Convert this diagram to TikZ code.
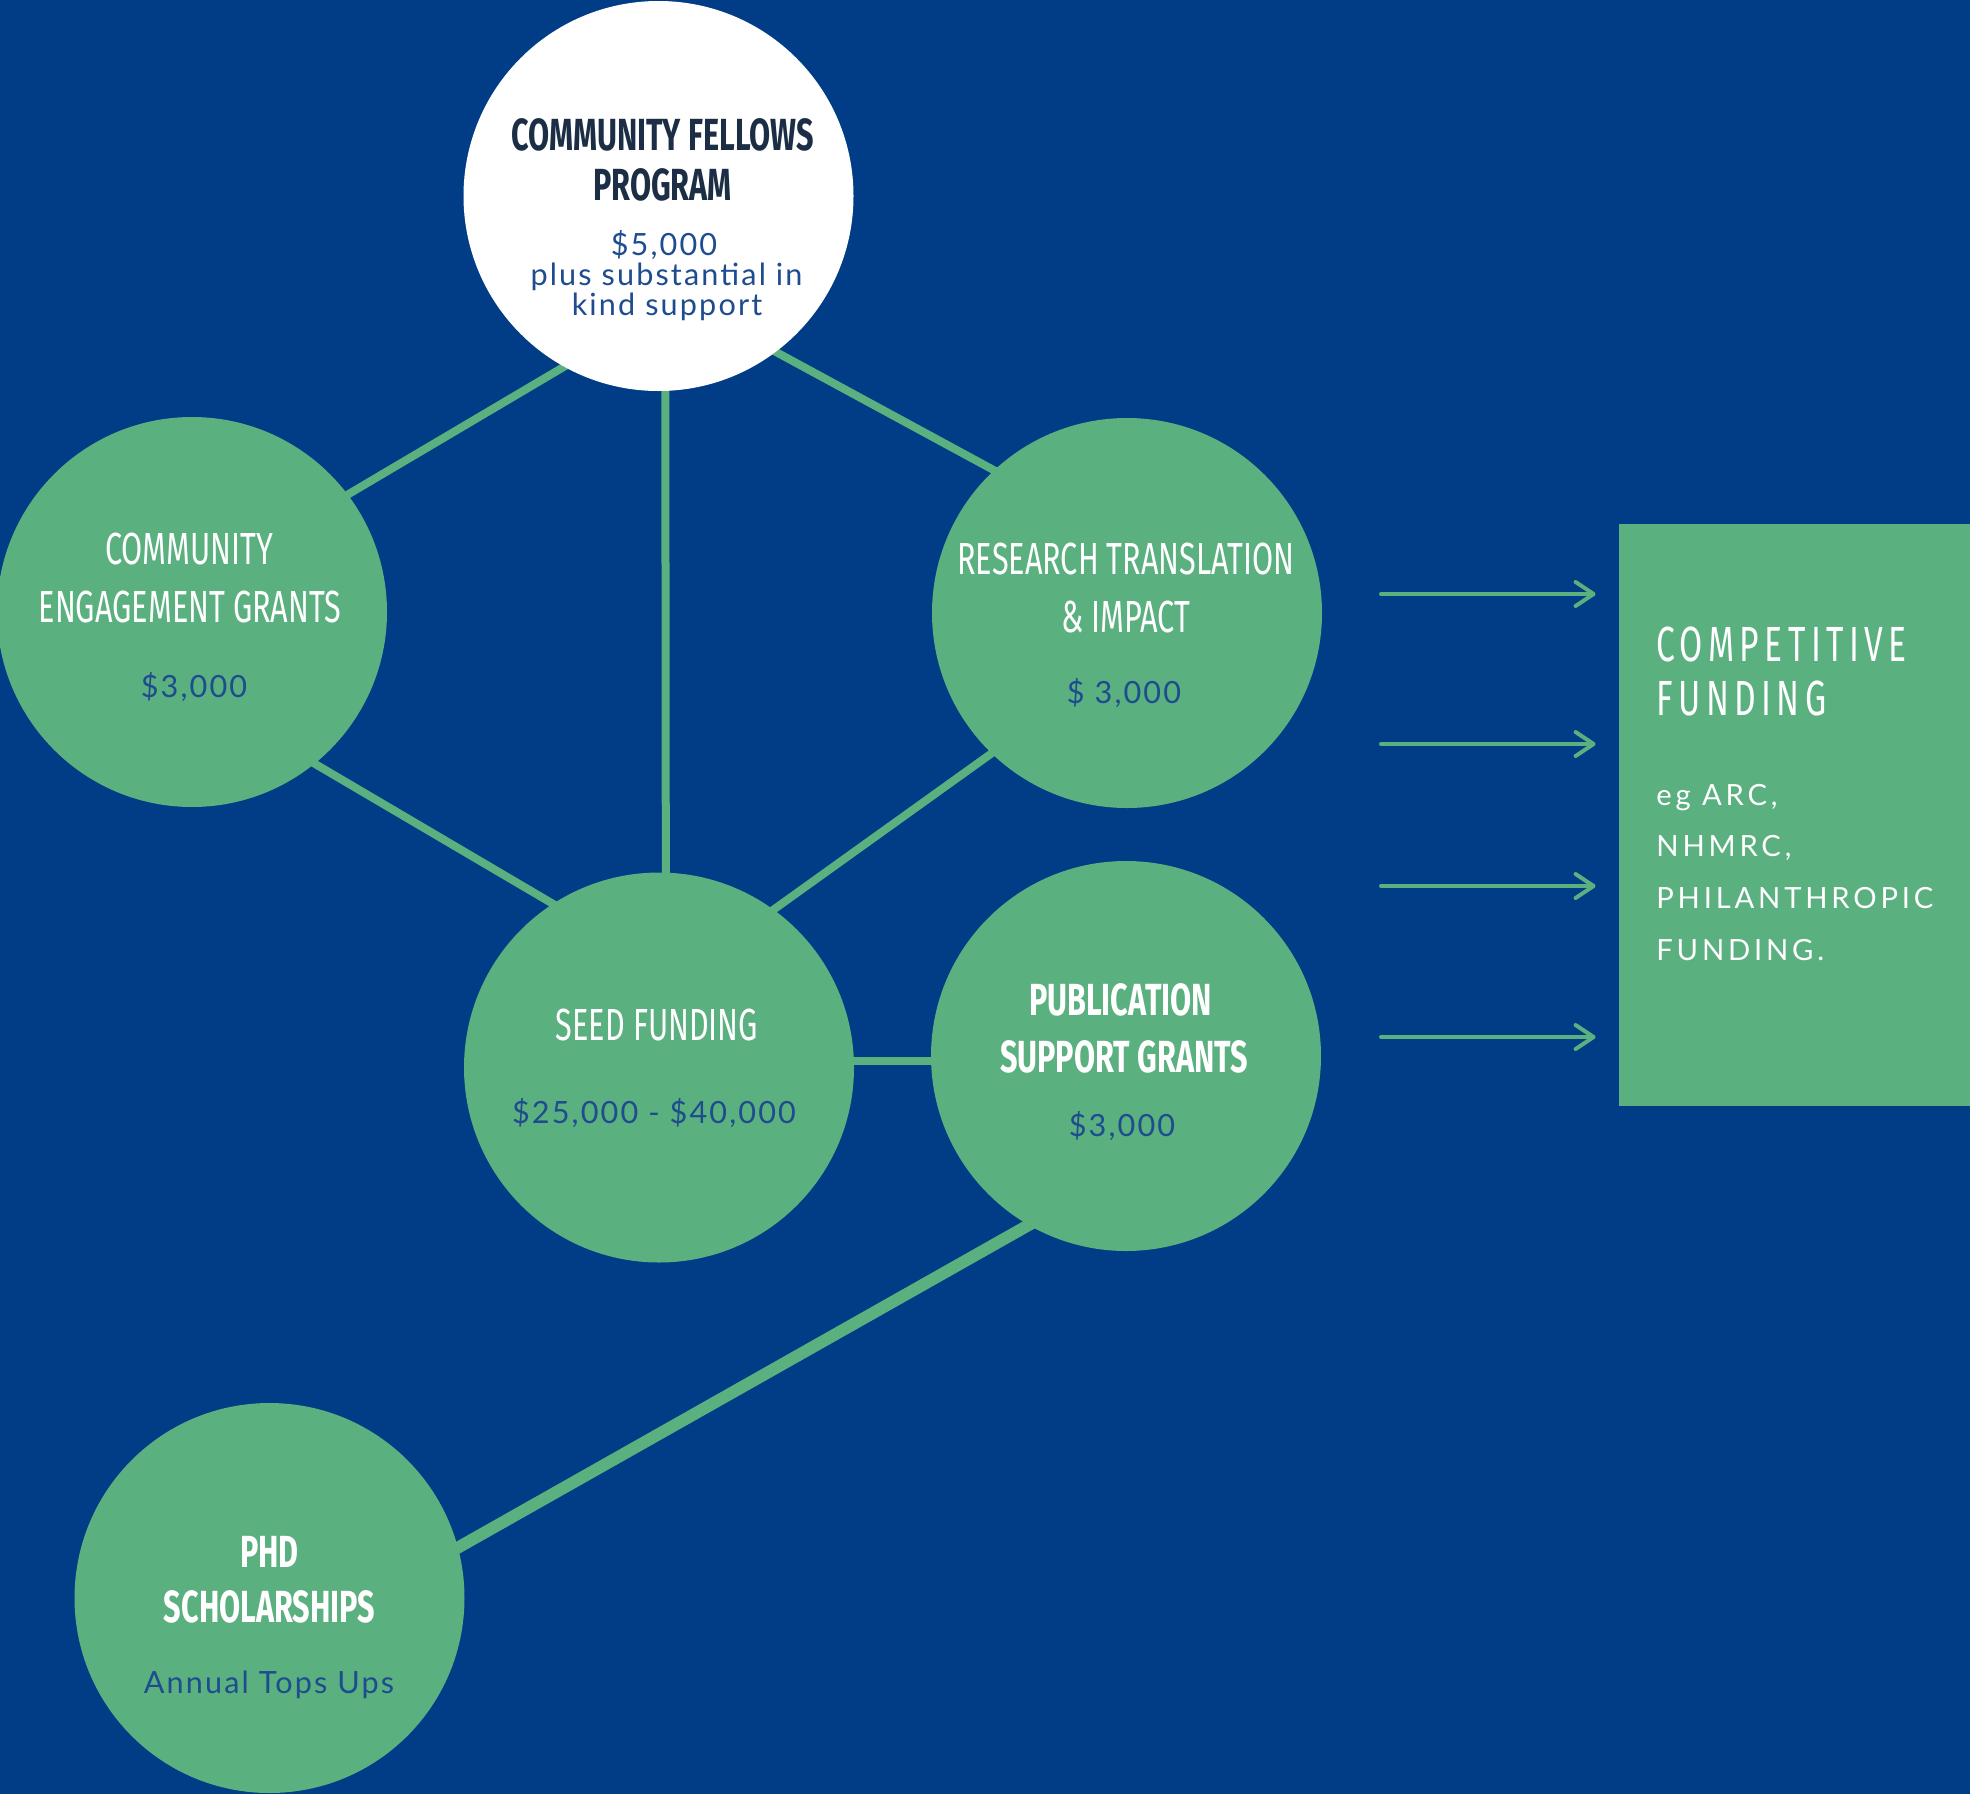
\documentclass[tikz,border=0pt]{standalone}
\usepackage{fontspec}
\setmainfont{Lato}
\newfontfamily\condfont[FakeStretch=0.68]{Fira Sans}
\newfontfamily\lato{Lato}
\usetikzlibrary{arrows.meta}
\definecolor{navy}{HTML}{003D86}
\definecolor{grn}{HTML}{5AB07F}
\definecolor{money}{HTML}{1E4C8F}
\definecolor{darkt}{HTML}{1B2E45}
\pgfdeclarelayer{bg}
\pgfsetlayers{bg,main}
\tikzset{
  bub/.style={circle, fill=grn, minimum size=195pt, inner sep=0pt},
  wbub/.style={circle, fill=white, minimum size=195pt, inner sep=0pt},
  link/.style={draw=grn, line width=4pt, shorten <=-6pt, shorten >=-6pt},
  biglink/.style={link, line width=6pt},
  ttl/.style={anchor=base, text=white, inner sep=0pt, font=\condfont\fontsize{22.5}{25}\selectfont},
  ttlb/.style={ttl, font=\condfont\bfseries\fontsize{22.5}{25}\selectfont},
  amt/.style={anchor=base, text=money, inner sep=0pt, font=\lato\fontsize{15.3}{18}\selectfont\addfontfeature{LetterSpace=7}},
  boxttl/.style={anchor=base west, text=white, inner sep=0pt, font=\condfont\fontsize{24.7}{28}\selectfont\addfontfeature{LetterSpace=11}},
  boxtxt/.style={anchor=base west, text=white, inner sep=0pt, font=\lato\fontsize{14.6}{18}\selectfont\addfontfeature{LetterSpace=13}},
  arr/.style={draw=grn, line width=2pt, line cap=round, -{Straight Barb[length=9pt, width=12pt, round]}, shorten >=11.5pt},
}
\begin{document}
\begin{tikzpicture}[x=0.5pt, y=-0.5pt]
\useasboundingbox (0,0) rectangle (1970,1794);
% circles
\node[wbub] (top) at (658.5,196) {};
\node[bub] (ce) at (192,612) {};
\node[bub] (rt) at (1127,613) {};
\node[bub] (seed) at (659,1067.5) {};
\node[bub] (pub) at (1126,1056) {};
\node[bub] (phd) at (269.5,1598) {};
\node[fill=grn, minimum width=175.5pt, minimum height=291pt, inner sep=0pt] (box) at (1794.5,815) {};
% links
\begin{pgfonlayer}{bg}
\fill[navy] (0,0) rectangle (1970,1794);
\draw[link] (top.241) -- (ce.37);
\draw[link] (top.307) -- (rt.133);
\draw[link] (top.272) -- (seed.88);
\draw[link] (ce.309) -- (seed.123);
\draw[link] (rt.226) -- (seed.54);
\draw[link] (seed.2) -- (seed.2 -| pub.west);
\draw[biglink] (pub.240) -- (phd.15);
\end{pgfonlayer}
% arrows
\coordinate (a1) at (1381,594);
\coordinate (a2) at (1381,744);
\coordinate (a3) at (1381,886);
\coordinate (a4) at (1381,1037);
\draw[arr] (a1) -- (a1 -| box.west);
\draw[arr] (a2) -- (a2 -| box.west);
\draw[arr] (a3) -- (a3 -| box.west);
\draw[arr] (a4) -- (a4 -| box.west);
% texts top
\node[ttlb, text=darkt] (topt1) at (662.5,150) {COMMUNITY FELLOWS};
\node[ttlb, text=darkt] (topt2) at (662.5,200) {PROGRAM};
\node[amt] (topt3) at (664,255) {\$5,000};
\node[amt] (topt4) at (666.5,285) {plus substantial in};
\node[amt] (topt5) at (667,315) {kind support};
% ce
\node[ttl] (cet1) at (189,564) {COMMUNITY};
\node[ttl] (cet2) at (190,622) {ENGAGEMENT GRANTS};
\node[amt] (cet3) at (194,697) {\$3,000};
% rt
\node[ttl] (rtt1) at (1126,574) {RESEARCH TRANSLATION};
\node[ttl] (rtt2) at (1126,632) {\& IMPACT};
\node[amt] (rtt3) at (1124,703) {\$ 3,000};
% seed
\node[ttl] (seedt1) at (657,1040) {SEED FUNDING};
\node[amt] (seedt2) at (654,1123) {\$25,000 - \$40,000};
% pub
\node[ttlb] (pubt1) at (1120.5,1015) {PUBLICATION};
\node[ttlb] (pubt2) at (1124,1072) {SUPPORT GRANTS};
\node[amt] (pubt3) at (1122,1136) {\$3,000};
% phd
\node[ttlb] (phdt1) at (269.5,1567) {PHD};
\node[ttlb] (phdt2) at (269.5,1622) {SCHOLARSHIPS};
\node[amt] (phdt3) at (269,1693) {Annual Tops Ups};
% box
\node[boxttl] (bt1) at (1656,661) {COMPETITIVE};
\node[boxttl] (bt2) at (1656,715.5) {FUNDING};
\node[boxtxt] (bt3) at (1656,805) {eg ARC,};
\node[boxtxt] (bt4) at (1656,856) {NHMRC,};
\node[boxtxt] (bt5) at (1656,908) {PHILANTHROPIC};
\node[boxtxt] (bt6) at (1656,960) {FUNDING.};
\end{tikzpicture}
\end{document}
